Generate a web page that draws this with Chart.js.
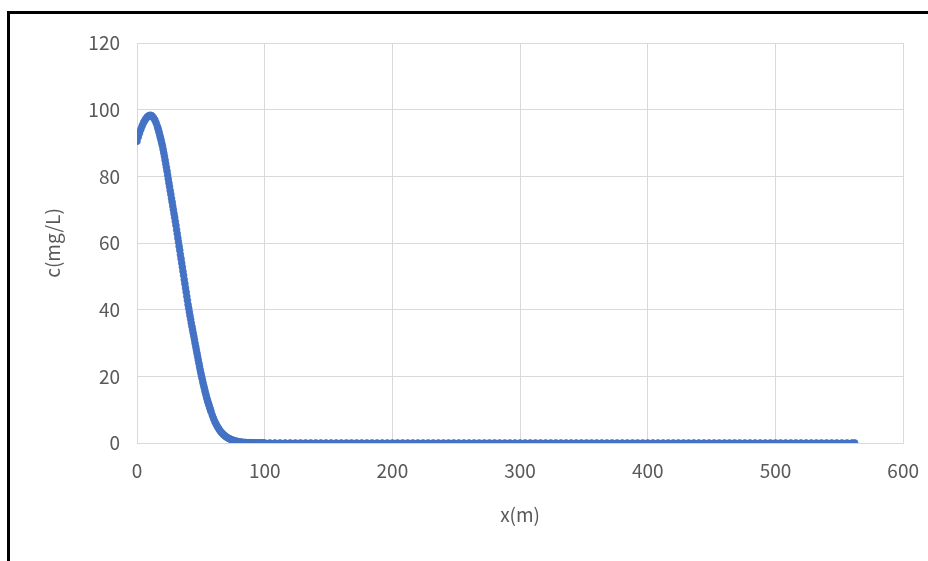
<!DOCTYPE html>
<html>
<head>
<meta charset="utf-8">
<script src="https://cdn.jsdelivr.net/npm/chart.js@4"></script>
<style>
  body { margin: 0; background: #fff; overflow: hidden; }
  #wrap { position: relative; width: 928px; height: 561px; overflow: hidden; }
  #frame { position: absolute; left: 7px; top: 11px; right: 0; bottom: 0;
           border-left: 3px solid #000; border-top: 3px solid #000; pointer-events: none; }
  canvas { position: absolute; left: 0; top: 0; }
</style>
</head>
<body>
<div id="wrap">
  <canvas id="myChart" width="935" height="561"></canvas>
  <div id="frame"></div>
</div>
<script>
const GREY = '#595959';
const GRID = '#d9d9d9';
const BLUE = '#4472C4';

// distance x (m); half-metre steps where the curve is steep
let headX = [
  0, 1, 2, 3, 4, 5, 6, 7, 8, 9,
  10, 11, 12, 13, 14, 15,
  16, 16.5, 17, 17.5, 18, 18.5, 19, 19.5, 20, 20.5,
  21, 21.5, 22, 22.5, 23, 23.5, 24, 24.5, 25, 25.5,
  26, 26.5, 27, 27.5, 28, 28.5, 29, 29.5, 30, 30.5,
  31, 31.5, 32, 32.5, 33, 33.5, 34, 34.5, 35, 35.5,
  36, 36.5, 37, 37.5, 38, 38.5, 39, 39.5, 40, 40.5,
  41, 41.5, 42, 42.5, 43, 43.5, 44, 44.5, 45, 45.5,
  46, 46.5, 47, 47.5, 48, 48.5, 49, 49.5, 50, 50.5,
  51, 51.5, 52, 52.5, 53, 53.5, 54, 54.5, 55, 55.5,
  56, 56.5, 57, 57.5, 58,
  59, 60, 61, 62, 63, 64, 65, 66, 67, 68, 69,
  70, 71, 72, 73, 74, 75, 76, 77, 78, 79,
  80, 81, 82, 83, 84, 85, 86, 87, 88, 89,
  90, 91, 92, 93, 94, 95, 96, 97, 98, 99, 100
];
// concentration c (mg/L)
let headC = [
  90.5, 91.8, 93.0, 94.1, 95.1, 96.0, 96.7, 97.3, 97.8, 98.1,
  98.3, 98.3, 98.0, 97.5, 96.9, 96.0,
  94.9, 94.3, 93.6, 92.9, 92.1, 91.4, 90.6, 89.8, 89.0, 88.0,
  87.0, 86.0, 84.9, 83.8, 82.7, 81.6, 80.4, 79.2, 78.0, 76.9,
  75.7, 74.6, 73.4, 72.3, 71.1, 70.0, 68.8, 67.7, 66.5, 65.3,
  64.0, 62.8, 61.5, 60.3, 59.0, 57.8, 56.5, 55.3, 54.0, 52.8,
  51.5, 50.3, 49.0, 47.8, 46.5, 45.3, 44.0, 42.8, 41.5, 40.4,
  39.3, 38.2, 37.1, 36.0, 35.0, 34.0, 33.0, 32.0, 31.0, 29.9,
  28.9, 27.9, 26.9, 25.9, 24.9, 23.9, 22.9, 21.9, 21.0, 20.1,
  19.3, 18.4, 17.6, 16.8, 16.0, 15.2, 14.5, 13.7, 13.0, 12.4,
  11.8, 11.2, 10.6, 10.0, 9.4,
  8.3, 7.3, 6.4, 5.6, 4.9, 4.3, 3.7, 3.2, 2.8, 2.4, 2.1,
  1.8, 1.55, 1.35, 1.15, 1.0, 0.85, 0.72, 0.6, 0.5, 0.42,
  0.35, 0.29, 0.24, 0.2, 0.16, 0.13, 0.11, 0.09, 0.07, 0.06,
  0.05, 0.04, 0.03, 0.03, 0.02, 0.02, 0.01, 0.01, 0.01, 0, 0
];
// far field, c is essentially zero
let tailX = [
  104, 108, 112, 116, 120, 124, 128, 132, 136, 140, 144, 148, 152, 156, 160,
  164, 168, 172, 176, 180, 184, 188, 192, 196, 200, 204, 208, 212, 216, 220,
  224, 228, 232, 236, 240, 244, 248, 252, 256, 260, 264, 268, 272, 276, 280,
  284, 288, 292, 296, 300, 304, 308, 312, 316, 320, 324, 328, 332, 336, 340,
  344, 348, 352, 356, 360, 364, 368, 372, 376, 380, 384, 388, 392, 396, 400,
  404, 408, 412, 416, 420, 424, 428, 432, 436, 440, 444, 448, 452, 456, 460,
  464, 468, 472, 476, 480, 484, 488, 492, 496, 500, 504, 508, 512, 516, 520,
  524, 528, 532, 536, 540, 544, 548, 552, 556, 560, 562
];
let tailC = [
  0, 0, 0, 0, 0, 0, 0, 0, 0, 0, 0, 0, 0, 0, 0,
  0, 0, 0, 0, 0, 0, 0, 0, 0, 0, 0, 0, 0, 0, 0,
  0, 0, 0, 0, 0, 0, 0, 0, 0, 0, 0, 0, 0, 0, 0,
  0, 0, 0, 0, 0, 0, 0, 0, 0, 0, 0, 0, 0, 0, 0,
  0, 0, 0, 0, 0, 0, 0, 0, 0, 0, 0, 0, 0, 0, 0,
  0, 0, 0, 0, 0, 0, 0, 0, 0, 0, 0, 0, 0, 0, 0,
  0, 0, 0, 0, 0, 0, 0, 0, 0, 0, 0, 0, 0, 0, 0,
  0, 0, 0, 0, 0, 0, 0, 0, 0, 0, 0
];

let xs = headX.concat(tailX);
let cs = headC.concat(tailC);
let points = xs.map((x, i) => ({ x: x, y: cs[i] }));

const font = { family: '"Noto Sans CJK SC", "Noto Sans", sans-serif', size: 19 };

let ctx = document.getElementById('myChart');
let myChart = new Chart(ctx, {
  type: 'scatter',
  data: {
    datasets: [{
      data: points,
      backgroundColor: BLUE,
      borderColor: BLUE,
      borderWidth: 0.75,
      pointRadius: 3.4,
      showLine: false
    }]
  },
  options: {
    responsive: false,
    animation: false,
    layout: { padding: { left: 41, right: 18, top: 43, bottom: 35 } },
    plugins: { legend: { display: false }, tooltip: { enabled: false } },
    scales: {
      x: {
        type: 'linear',
        min: 0, max: 600,
        grid: { color: GRID, drawTicks: false },
        border: { color: GRID },
        ticks: { stepSize: 100, padding: 16, color: GREY, font: font },
        title: { display: true, text: 'x(m)', color: GREY, font: font, padding: 0 },
        afterFit: (axis) => { axis.height = 83; }
      },
      y: {
        min: 0, max: 120,
        grid: { color: GRID, drawTicks: false },
        border: { color: GRID },
        ticks: { stepSize: 20, padding: 17, color: GREY, font: font },
        title: { display: true, text: 'c(mg/L)', color: GREY, font: font, padding: 0 },
        afterFit: (axis) => { axis.width = 96; }
      }
    }
  }
});
</script>
</body>
</html>
